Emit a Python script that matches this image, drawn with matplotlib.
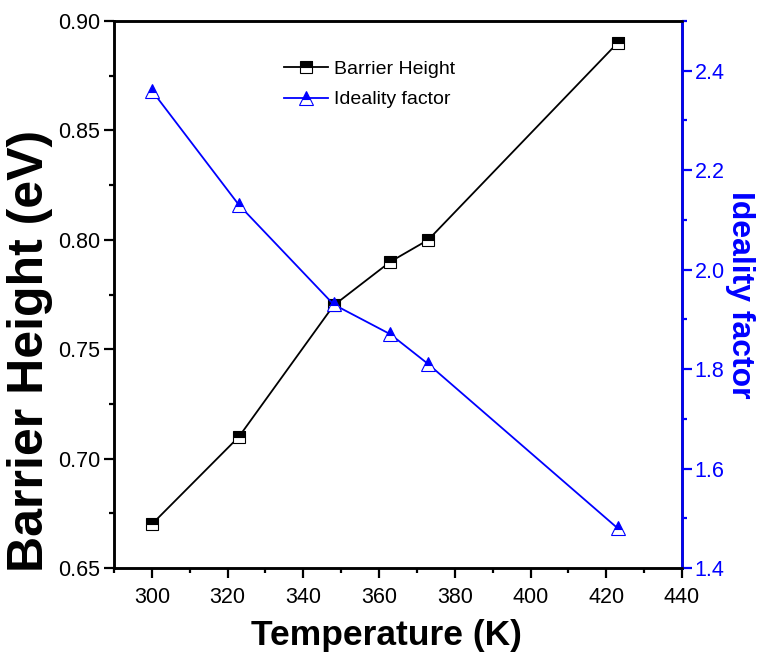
import matplotlib
matplotlib.use("Agg")
import matplotlib.pyplot as plt
from matplotlib.ticker import MultipleLocator

plt.rcParams['font.family'] = ['Liberation Sans', 'DejaVu Sans']

temperature = [300, 323, 348, 363, 373, 423]
barrier_height = [0.67, 0.71, 0.77, 0.79, 0.80, 0.89]
ideality = [2.36, 2.13, 1.93, 1.87, 1.81, 1.48]

fig = plt.figure(figsize=(7.62, 6.57), dpi=100)
ax1 = fig.add_axes([0.1496, 0.1355, 0.7454, 0.8325])
ax2 = ax1.twinx()

l1, = ax1.plot(temperature, barrier_height, color='black', lw=1.3,
               marker='s', markersize=8, fillstyle='top',
               markerfacecolor='black', markerfacecoloralt='white',
               markeredgecolor='black', markeredgewidth=0.8,
               label='Barrier Height')
l2, = ax2.plot(temperature, ideality, color='blue', lw=1.3,
               marker='^', markersize=10, fillstyle='top',
               markerfacecolor='blue', markerfacecoloralt='white',
               markeredgecolor='blue', markeredgewidth=0.8,
               label='Ideality factor')

ax1.set_xlim(290, 440)
ax1.set_ylim(0.65, 0.90)
ax2.set_ylim(1.4, 2.5)

ax1.xaxis.set_major_locator(MultipleLocator(20))
ax1.xaxis.set_minor_locator(MultipleLocator(10))
ax1.yaxis.set_major_locator(MultipleLocator(0.05))
ax1.yaxis.set_minor_locator(MultipleLocator(0.025))
ax2.yaxis.set_major_locator(MultipleLocator(0.2))
ax2.yaxis.set_minor_locator(MultipleLocator(0.1))
ax1.yaxis.set_major_formatter(plt.FormatStrFormatter('%.2f'))
ax2.yaxis.set_major_formatter(plt.FormatStrFormatter('%.1f'))

ax1.tick_params(axis='both', which='major', direction='out', length=7, width=1.6, labelsize=15.5)
ax1.tick_params(axis='both', which='minor', direction='out', length=3.5, width=1.6)
ax1.tick_params(axis='x', which='major', pad=6.5)
ax1.tick_params(axis='y', which='major', pad=3)
ax2.tick_params(axis='y', which='major', direction='out', length=7, width=1.6, pad=2,
                labelsize=15.5, color='blue', labelcolor='blue')
ax2.tick_params(axis='y', which='minor', direction='out', length=3.5, width=1.6, color='blue')

for s in ax1.spines.values():
    s.set_linewidth(1.8)
for s in ax2.spines.values():
    s.set_linewidth(1.8)
ax2.spines['right'].set_color('blue')

ax1.set_xlabel('Temperature (K)', fontsize=25.5, fontweight='bold')
ax1.xaxis.set_label_coords(0.479, -0.094)
ax1.set_ylabel('Barrier Height (eV)', fontsize=36, fontweight='bold')
ax1.yaxis.set_label_coords(-0.108, 0.397)
ax2.set_ylabel('Ideality factor', fontsize=23, fontweight='bold', color='blue',
               rotation=270, labelpad=22)

ax1.legend(handles=[l1, l2], loc='upper left', bbox_to_anchor=(0.285, 0.942),
           frameon=False, fontsize=14, handlelength=2.3, handletextpad=0.3,
           labelspacing=0.65, borderaxespad=0)

fig.savefig('out.png', dpi=100)
